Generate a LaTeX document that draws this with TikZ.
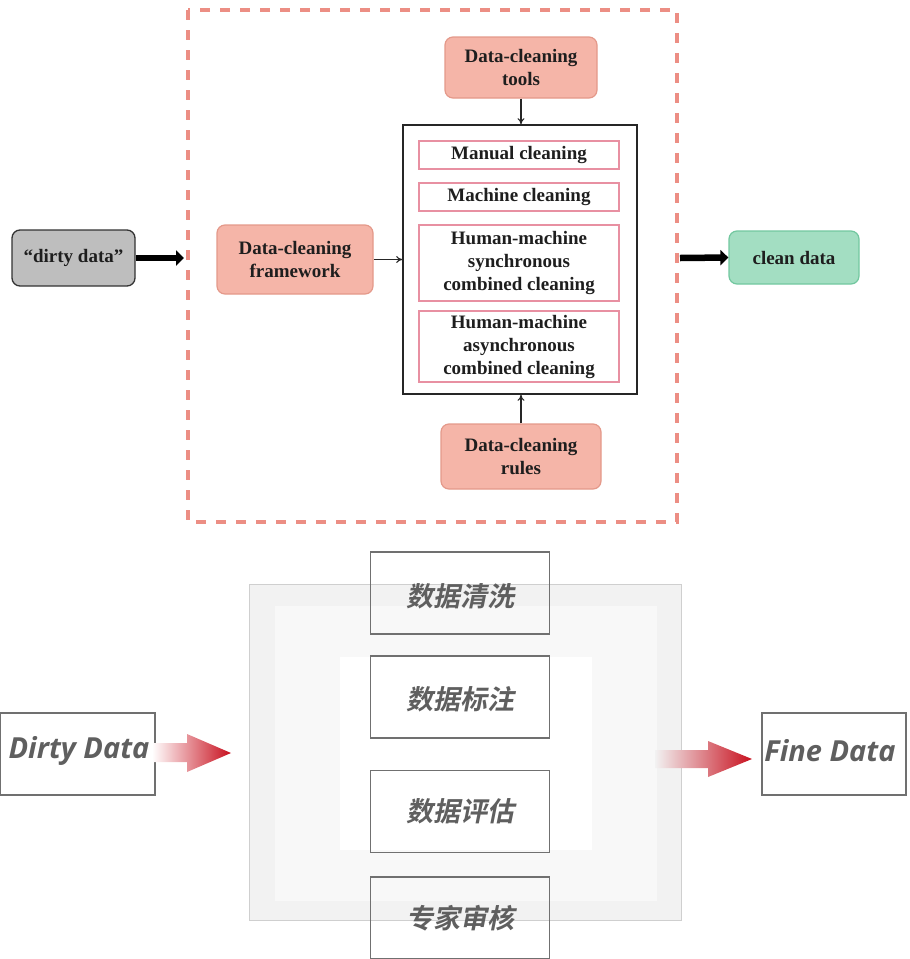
\documentclass[tikz,border=0pt]{standalone}
\usepackage{fontspec}
\setmainfont{Liberation Serif}
\newfontfamily\latinsans{Open Sans}
\newfontfamily\cjk{Noto Sans CJK SC Bold}[FakeSlant=0.2]
\usetikzlibrary{arrows.meta}

\definecolor{salmonfill}{HTML}{F5B5A8}
\definecolor{salmonline}{HTML}{E4998A}
\definecolor{dashline}{HTML}{EC8E84}
\definecolor{greenfill}{HTML}{A3DEC2}
\definecolor{greenline}{HTML}{72C79F}
\definecolor{grayfill}{HTML}{BEBEBE}
\definecolor{pinkline}{HTML}{E890A2}
\definecolor{txtdark}{HTML}{1E1E1E}
\definecolor{boxgray}{HTML}{707070}
\definecolor{cjkgray}{HTML}{5F5F5F}
\definecolor{panelA}{HTML}{F2F2F2}
\definecolor{panelB}{HTML}{F8F8F8}
\definecolor{panelline}{HTML}{CFCFCF}
\definecolor{arrowred}{HTML}{C8101E}

\tikzset{
  serifbold/.style={font=\bfseries\fontsize{19}{23}\selectfont, text=txtdark, align=center},
  salmonbox/.style={serifbold, draw=salmonline, fill=salmonfill, line width=1.2pt,
    rounded corners=8pt, inner sep=0pt},
  methodbox/.style={serifbold, draw=pinkline, line width=1.2pt, inner sep=0pt, minimum width=200pt},
  thinarrow/.style={-{To[length=6pt,width=7pt]}, line width=1.1pt, black!85},
  fatarrow/.style={-{Triangle[length=8pt,width=15pt]}, line width=6.5pt, black},
  stagebox/.style={draw=boxgray, line width=1.3pt, minimum width=179pt, minimum height=82pt,
    inner sep=0pt},
  endbox/.style={draw=boxgray, line width=1.3pt, minimum height=82pt, inner sep=0pt},
  stagetext/.style={font=\cjk\fontsize{27}{30}\selectfont, text=cjkgray},
  endtext/.style={font=\latinsans\bfseries\itshape\fontsize{29}{32}\selectfont, text=cjkgray},
}

\begin{document}
\begin{tikzpicture}[x=1pt, y=-1pt]
\useasboundingbox (0,0) rectangle (910,959);

% ---------- upper diagram: cleaning framework ----------
\draw[dashline, line width=3.2pt, dash pattern=on 10pt off 10pt] (188,10) rectangle (677,522);

\node[serifbold, draw=black!80, fill=grayfill, line width=1.3pt, rounded corners=8pt,
      minimum width=123pt, minimum height=56pt, inner sep=0pt] (dirty) at (73.5,258) {“dirty data”};
\node[salmonbox, minimum width=156pt, minimum height=69pt] (frame) at (295,259.5) {Data-cleaning\\framework};
\node[salmonbox, minimum width=152pt, minimum height=61pt] (tools) at (521,67.5) {Data-cleaning\\tools};
\node[salmonbox, minimum width=160pt, minimum height=65pt] (rules) at (521,456.5) {Data-cleaning\\rules};

\node[draw=black!85, line width=1.6pt, minimum width=234pt, minimum height=269pt, inner sep=0pt] (methods) at (520,259.5) {};
\node[methodbox, minimum height=28pt] (manual) at (519,155) {Manual cleaning};
\node[methodbox, minimum height=28pt] (machine) at (519,197) {Machine cleaning};
\node[methodbox, minimum height=76pt] (sync) at (519,263) {Human-machine\\synchronous\\combined cleaning};
\node[methodbox, minimum height=71pt] (async) at (519,346.5) {Human-machine\\asynchronous\\combined cleaning};

\node[serifbold, draw=greenline, fill=greenfill, line width=1.2pt, rounded corners=8pt,
      minimum width=130pt, minimum height=53pt, inner sep=0pt] (clean) at (794,257.5) {clean data};

\coordinate (dirtyend) at (184,258);
\coordinate (cleanstart) at (680,258);
\draw[fatarrow] (dirty.east) -- (dirtyend);
\draw[fatarrow] (cleanstart) -- (clean.west);
\draw[thinarrow] (frame.east) -- (frame.east -| methods.west);
\draw[thinarrow] (tools.south) -- (tools.south |- methods.north);
\draw[thinarrow] (rules.north) -- (rules.north |- methods.south);

% ---------- lower diagram: processing pipeline ----------
\draw[panelline, fill=panelA, line width=1pt] (249,584) rectangle (681,920);
\fill[panelB] (275,606) rectangle (657,901);
\fill[white] (340,657) rectangle (592,850);

\node[stagebox] (wash) at (460,593) {};
\node[stagebox] (label) at (460,697) {};
\node[stagebox] (assess) at (460,811.5) {};
\node[stagebox] (review) at (460,918) {};
\node[stagetext] at (wash.center) [yshift=-3pt] {数据清洗};
\node[stagetext] at (label.center) [yshift=-2pt] {数据标注};
\node[stagetext] at (assess.center) {数据评估};
\node[stagetext] at (review.center) {专家审核};

\node[endbox, minimum width=155pt] (dirtyin) at (77.5,754) {};
\node[endbox, minimum width=144pt] (fineout) at (834,754) {};

% gradient block arrows
\shade[left color=white, right color=arrowred]
  (152,743) -- (187,743) -- (187,734) -- (231,753) -- (187,772) -- (187,762) -- (152,762) -- cycle;
\shade[left color=panelA, right color=arrowred]
  (655,750) -- (708,750) -- (708,741) -- (752,759) -- (708,777) -- (708,768) -- (655,768) -- cycle;

\node[endtext] at (79,751) {Dirty Data};
\node[endtext] at (830,751) {Fine Data};
\end{tikzpicture}
\end{document}
